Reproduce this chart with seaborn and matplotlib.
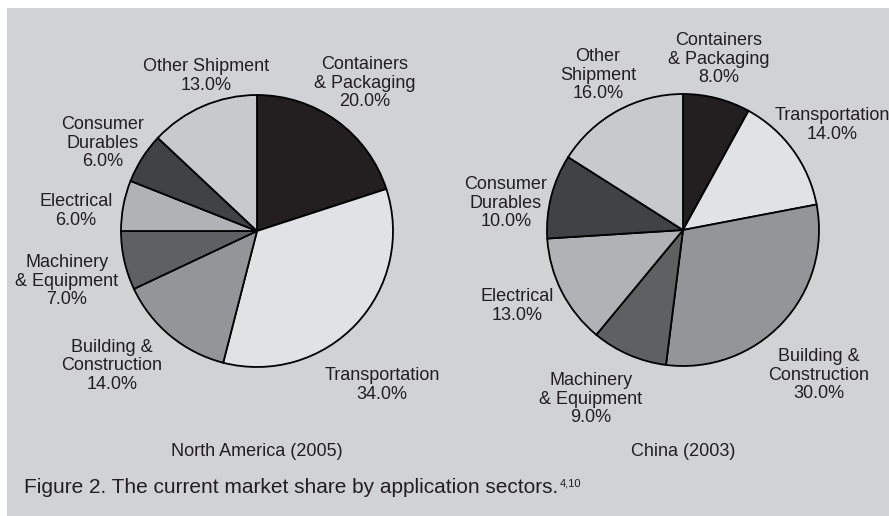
import matplotlib
matplotlib.use('Agg')
import matplotlib.pyplot as plt
from matplotlib.patches import Rectangle
import seaborn as sns

sectors = ['Containers\n& Packaging', 'Transportation', 'Building &\nConstruction',
           'Machinery\n& Equipment', 'Electrical', 'Consumer\nDurables', 'Other Shipment']
na_share = [20.0, 34.0, 14.0, 7.0, 6.0, 6.0, 13.0]
china_share = [8.0, 14.0, 30.0, 9.0, 13.0, 10.0, 16.0]
china_names = ['Containers\n& Packaging', 'Transportation', 'Building &\nConstruction',
               'Machinery\n& Equipment', 'Electrical', 'Consumer\nDurables', 'Other\nShipment']
region_titles = ['North America (2005)', 'China (2003)']
caption = 'Figure 2. The current market share by application sectors.'
caption_refs = '4,10'

grays = sns.color_palette(['#231f20', '#e1e2e4', '#939598', '#5f6062',
                           '#b1b2b5', '#414244', '#c8c9cb'])

W, H = 889, 516
BG = '#d1d2d4'
INK = '#231f20'

sns.set_style('white')
plt.rcParams['font.family'] = ['Liberation Sans', 'DejaVu Sans']

fig = plt.figure(figsize=(W / 100, H / 100), dpi=100)
fig.patch.set_facecolor('white')
fig.patches.append(Rectangle((7 / W, 0), 1 - 7 / W, (H - 8) / H,
                             transform=fig.transFigure, facecolor=BG,
                             edgecolor='none', zorder=-5))
ax = fig.add_axes([0, 0, 1, 1])
ax.set_xlim(0, W)
ax.set_ylim(0, H)
ax.set_aspect('equal')
ax.axis('off')
ax.patch.set_visible(False)

# pie centres in pixel coords (from top-left)
centres = [(257, 231), (683, 230)]
radius = 136

# label block centres, pixel coords from top-left
na_label_pos = [(365, 83), (382, 385), (112, 366), (67, 281), (76, 211), (103, 143), (206, 76)]
china_label_pos = [(719, 59), (832, 125), (819, 375), (591, 399), (517, 306), (506, 203), (598, 75)]

panels = [(na_share, sectors, na_label_pos), (china_share, china_names, china_label_pos)]
for (shares, names, pos), (cx, cy), title in zip(panels, centres, region_titles):
    ax.pie(shares, colors=grays, startangle=90, counterclock=False,
           center=(cx, H - cy), radius=radius,
           wedgeprops=dict(edgecolor='black', linewidth=1.3))
    for name, v, (lx, ly) in zip(names, shares, pos):
        ax.text(lx, H - ly, f'{name}\n{v:.1f}%', ha='center', va='center',
                fontsize=13, color=INK, linespacing=1.15)
    ax.text(cx, H - 452, title, ha='center', va='center', fontsize=13, color=INK)

ax.set_xlim(0, W)
ax.set_ylim(0, H)
cap = ax.text(24, H - 493, caption, ha='left', va='baseline', fontsize=15, color=INK)
fig.canvas.draw()
bb = cap.get_window_extent()
ax.text(bb.x1 + 2, H - 486, caption_refs, ha='left', va='baseline', fontsize=8, color=INK)

fig.savefig('out.png', dpi=100, facecolor='white')
